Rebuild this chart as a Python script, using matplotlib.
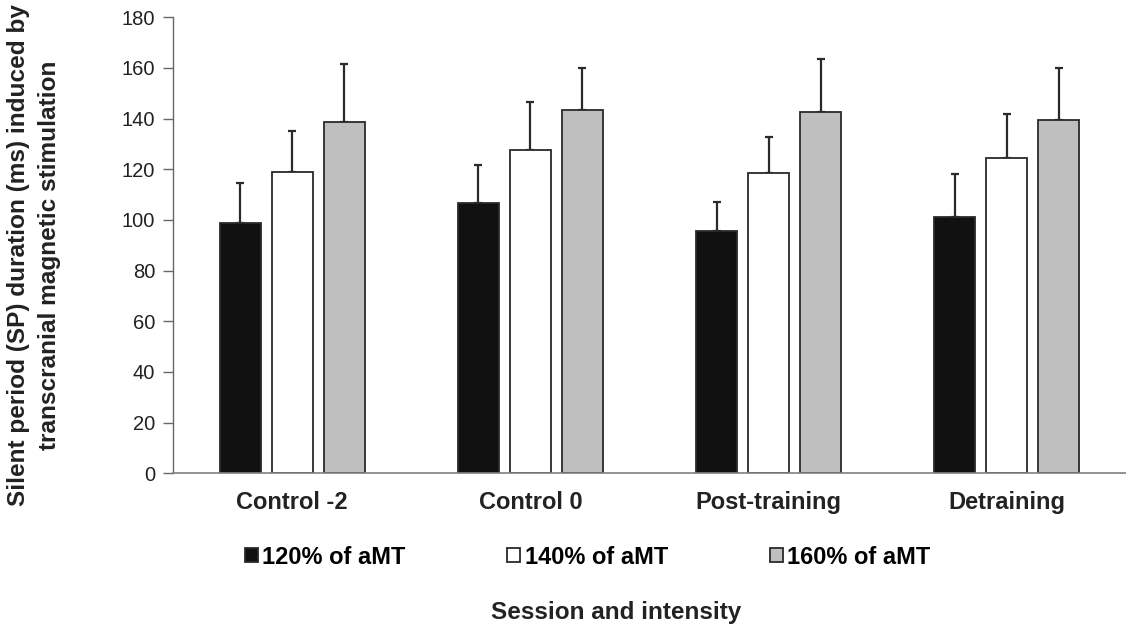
import matplotlib
matplotlib.use("Agg")
import matplotlib.pyplot as plt
import numpy as np

plt.rcParams['font.family'] = ['Liberation Sans', 'DejaVu Sans']

categories = ["Control -2", "Control 0", "Post-training", "Detraining"]
series_names = ["120% of aMT", "140% of aMT", "160% of aMT"]
vals_120 = [98.8, 106.7, 95.5, 101.3]
vals_140 = [118.9, 127.6, 118.6, 124.6]
vals_160 = [138.6, 143.5, 142.7, 139.3]
err_120 = [15.8, 14.8, 11.7, 16.9]
err_140 = [16.4, 19.1, 14.2, 17.3]
err_160 = [22.9, 16.3, 20.8, 20.5]
yticks = [0, 20, 40, 60, 80, 100, 120, 140, 160, 180]

fig = plt.figure(figsize=(11.26, 6.26), dpi=100)
ax = fig.add_axes([0.1537, 0.2439, 0.8463, 0.7285])

x = np.arange(len(categories))
pitch = 0.218
width = 0.172
colors = ["#111111", "#ffffff", "#bfbfbf"]
vals = [vals_120, vals_140, vals_160]
errs = [err_120, err_140, err_160]
handles = []
for i in range(3):
    b = ax.bar(x + (i - 1) * pitch, vals[i], width, color=colors[i],
               edgecolor="#2a2a2a", linewidth=1.3, zorder=2, label=series_names[i])
    ax.errorbar(x + (i - 1) * pitch, vals[i], yerr=[np.zeros(4), errs[i]],
                fmt="none", ecolor="#2a2a2a", elinewidth=1.6, capsize=3,
                capthick=1.6, zorder=1)
    handles.append(b)

ax.set_xlim(-0.5, 3.5)
ax.set_ylim(0, 180)
ax.set_yticks(yticks)
ax.set_yticklabels([str(t) for t in yticks], fontsize=14.5, color="#222222")
ax.set_xticks(x)
ax.set_xticklabels(categories, fontsize=17, fontweight="bold", color="#222222")
ax.tick_params(axis="x", length=0, pad=13)
ax.tick_params(axis="y", length=7, width=1, color="#666666", pad=6)
for s in ["top", "right"]:
    ax.spines[s].set_visible(False)
ax.spines["left"].set_color("#666666")
ax.spines["bottom"].set_color("#808080")
ax.spines["left"].set_linewidth(1.0)
ax.spines["bottom"].set_linewidth(1.2)

fig.text(0.030, 0.592, "Silent period (SP) duration (ms) induced by\ntranscranial magnetic stimulation",
         rotation=90, ha="center", va="center", multialignment="center",
         fontsize=17.6, fontweight="bold", color="#222222", linespacing=1.42)

fig.legend(handles, series_names, loc="center", bbox_to_anchor=(0.5218, 0.1102), ncol=3,
           frameon=False, prop={"weight": "bold", "size": 17},
           handlelength=0.55, handleheight=0.55, handletextpad=0.2, columnspacing=4.3,
           borderaxespad=0, borderpad=0)

fig.text(0.547, 0.0208, "Session and intensity", ha="center", va="center",
         fontsize=17.5, fontweight="bold", color="#222222")

fig.savefig("out.png", dpi=100)
